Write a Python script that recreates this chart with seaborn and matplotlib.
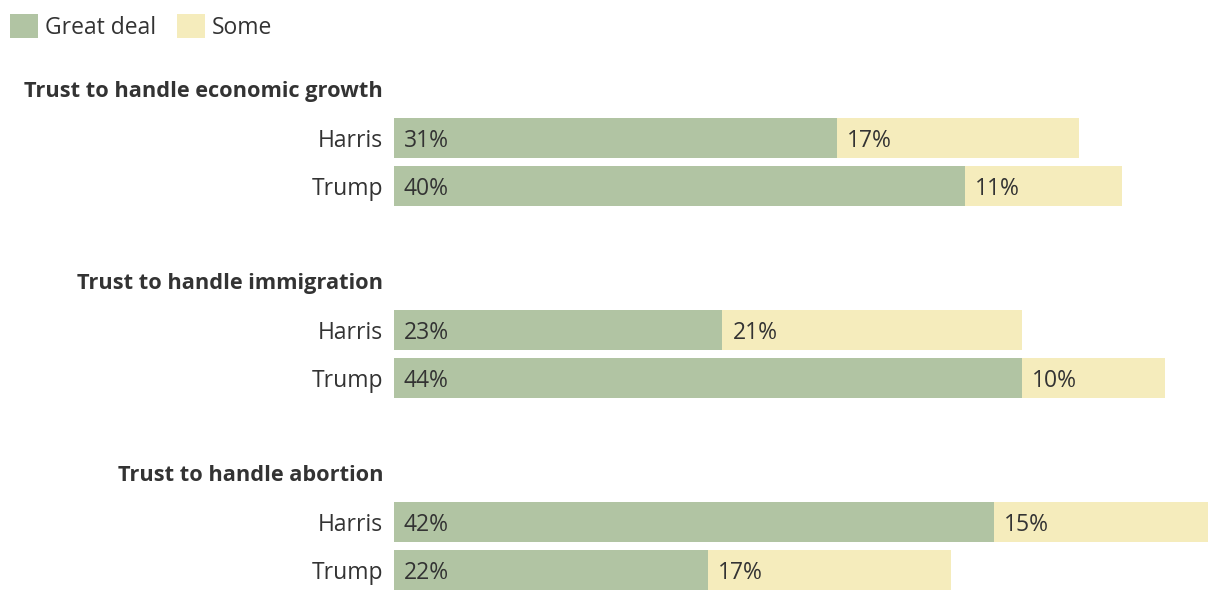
import matplotlib
matplotlib.use("Agg")
import matplotlib.pyplot as plt
from matplotlib.patches import Patch
import seaborn as sns
import pandas as pd

# ---- data ----
issues = ["Trust to handle economic growth", "Trust to handle immigration", "Trust to handle abortion"]
candidates = ["Harris", "Trump"]
great_deal = [[31, 40], [23, 44], [42, 22]]
some = [[17, 11], [21, 10], [15, 17]]
series_names = ["Great deal", "Some"]

GREEN = "#b1c4a3"
YELLOW = "#f5ecbc"
TEXT = "#333333"

sns.set_theme(style="white")
plt.rcParams["font.family"] = ["Open Sans", "DejaVu Sans"]

W, H = 1220, 600
fig = plt.figure(figsize=(W / 100, H / 100), dpi=100)

x0, x1 = 394, 1208
xmax = 57
tops = [114, 306, 498]
title_y = [89, 281, 473]
FS = 16.5
FS_T = 15.7

for i, issue in enumerate(issues):
    top = tops[i]
    ax = fig.add_axes([x0 / W, 1 - (top + 96) / H, (x1 - x0) / W, 96 / H])
    df = pd.DataFrame({
        "candidate": candidates,
        "great": great_deal[i],
        "some": some[i],
    })
    df["total"] = df["great"] + df["some"]
    sns.barplot(data=df, y="candidate", x="total", color=YELLOW, saturation=1,
                width=40 / 48, linewidth=0, orient="h", ax=ax)
    sns.barplot(data=df, y="candidate", x="great", color=GREEN, saturation=1,
                width=40 / 48, linewidth=0, orient="h", ax=ax)
    ax.set_xlim(0, xmax)
    ax.set_ylim(1.5, -0.5)
    ax.set_xlabel("")
    ax.set_ylabel("")
    ax.set_xticks([])
    ax.tick_params(axis="y", length=0, pad=8, labelsize=FS, labelcolor=TEXT)
    for lab in ax.get_yticklabels():
        lab.set_va("center_baseline")
    for s in ax.spines.values():
        s.set_visible(False)
    for j in range(len(candidates)):
        g = df["great"][j]
        s_ = df["some"][j]
        ax.annotate(f"{g}%", xy=(0, j), xytext=(10, 0), textcoords="offset pixels",
                    ha="left", va="center_baseline", fontsize=FS, color=TEXT)
        ax.annotate(f"{s_}%", xy=(g, j), xytext=(10, 0), textcoords="offset pixels",
                    ha="left", va="center_baseline", fontsize=FS, color=TEXT)
    fig.text(383 / W, 1 - title_y[i] / H, issue, ha="right", va="center_baseline",
             fontsize=FS_T, fontweight="bold", color=TEXT)

em = FS * 100 / 72
handles = [Patch(facecolor=GREEN, edgecolor="none"), Patch(facecolor=YELLOW, edgecolor="none")]
fig.legend(handles, series_names, loc="upper left", bbox_to_anchor=(10 / W, 1 - 14 / H),
           ncol=2, frameon=False, fontsize=FS, labelcolor=TEXT, borderpad=0, borderaxespad=0,
           handlelength=28 / em, handleheight=28 / em,
           handletextpad=0.3, columnspacing=0.9)

fig.savefig("out.png", dpi=100)
